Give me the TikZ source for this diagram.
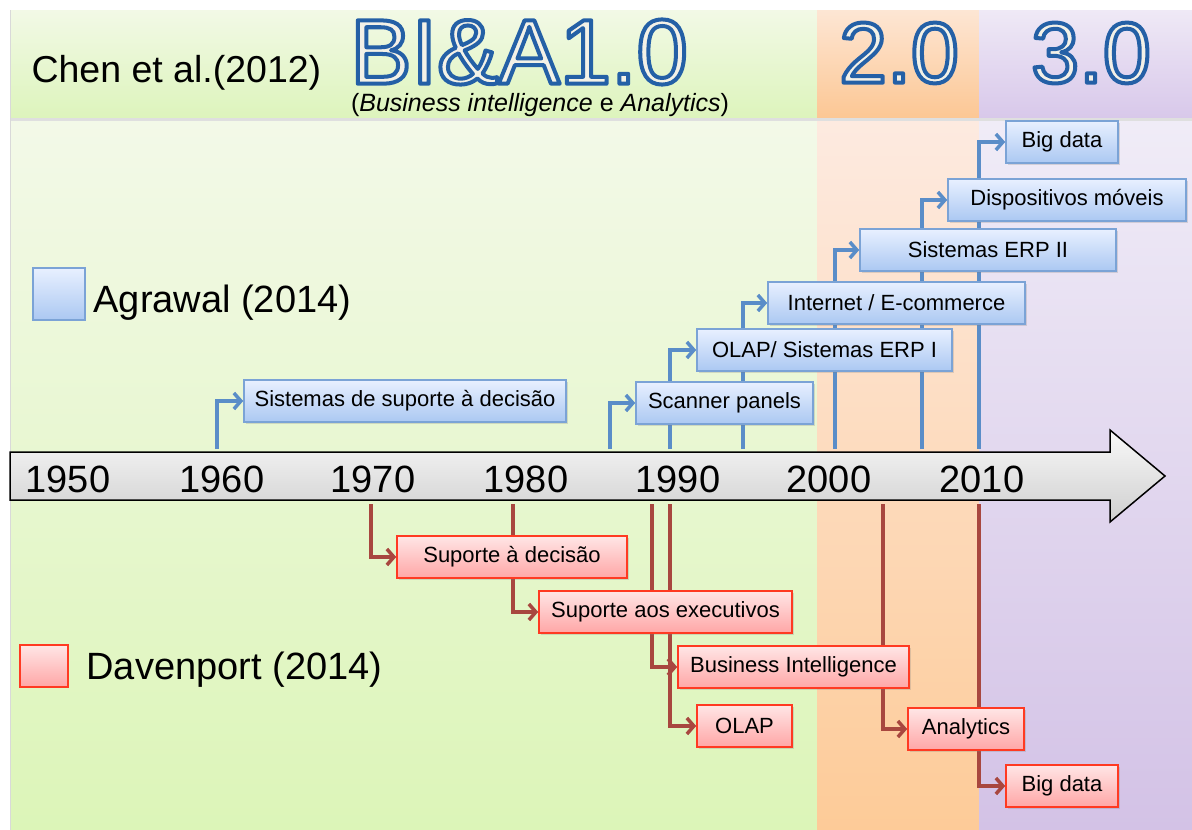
\documentclass[tikz,border=0pt]{standalone}
\usepackage{fontspec}
\setmainfont{Liberation Sans}
\usetikzlibrary{arrows.meta,shadows}
\pgfdeclarelayer{back}
\pgfdeclarelayer{mid}
\pgfsetlayers{back,mid,main}
\definecolor{hgreenA}{HTML}{F2F9E6}
\definecolor{hgreenB}{HTML}{DDF4BC}
\definecolor{bgreenA}{HTML}{F3F9E8}
\definecolor{bgreenB}{HTML}{DCF5B8}
\definecolor{horangeA}{HTML}{FDE6D4}
\definecolor{horangeB}{HTML}{FCC794}
\definecolor{borangeA}{HTML}{FDEAE0}
\definecolor{borangeB}{HTML}{FDCB98}
\definecolor{hpurpleA}{HTML}{EFE9F6}
\definecolor{hpurpleB}{HTML}{D8C8EA}
\definecolor{bpurpleA}{HTML}{F0ECF7}
\definecolor{bpurpleB}{HTML}{D3C2E6}
\definecolor{bluetop}{HTML}{E8F0FF}
\definecolor{bluebot}{HTML}{ABC8F2}
\definecolor{blueedge}{HTML}{7BA3D6}
\definecolor{bluearrow}{HTML}{5A8DC8}
\definecolor{redtop}{HTML}{FFE6E6}
\definecolor{redbot}{HTML}{FFA6A6}
\definecolor{rededge}{HTML}{FF3A22}
\definecolor{redarrow}{HTML}{A8473F}
% outlined title letters: cream fill, blue stroke
\newcommand\outlined[1]{\special{pdf:code q 2 Tr 4 w 1 j 0.141 0.376 0.651 RG 0.953 0.945 0.906 rg}#1\special{pdf:code Q}}
\begin{document}
\begin{tikzpicture}[x=1pt,y=-1pt,
    box/.style={rectangle,line width=1.6pt,minimum height=42pt,inner sep=0pt,
      font=\fontsize{22}{25}\selectfont,
      drop shadow={shadow xshift=1.5pt,shadow yshift=-2pt,opacity=.25}},
    agbox/.style={box,draw=blueedge,top color=bluetop,bottom color=bluebot},
    dabox/.style={box,draw=rededge,top color=redtop,bottom color=redbot},
    agline/.style={bluearrow,line width=3.5pt,-{Straight Barb[length=7pt,width=16pt]}},
    daline/.style={redarrow,line width=3.5pt,-{Straight Barb[length=7pt,width=16pt]}},
    year/.style={anchor=base,font=\fontsize{38}{40}\selectfont},
    big/.style={inner sep=0pt,font=\fontsize{92}{92}\selectfont},
    bigver/.style={inner sep=0pt,font=\fontsize{86}{86}\selectfont}]
\useasboundingbox (0,0) rectangle (1192,830);
\begin{pgfonlayer}{back}
\fill[white] (0,0) rectangle (1192,830);
% header and body bands
\fill[top color=hgreenA,bottom color=hgreenB] (10,10) rectangle (817,118);
\fill[top color=horangeA,bottom color=horangeB] (817,10) rectangle (979,118);
\fill[top color=hpurpleA,bottom color=hpurpleB] (979,10) rectangle (1192,118);
\fill[gray!25] (10,118) rectangle (1192,121);
\fill[top color=bgreenA,bottom color=bgreenB] (10,121) rectangle (817,830);
\fill[top color=borangeA,bottom color=borangeB] (817,121) rectangle (979,830);
\fill[top color=bpurpleA,bottom color=bpurpleB] (979,121) rectangle (1192,830);
\draw[gray!30,line width=1pt] (10,10) -- (10,830);
% timeline
\draw[line width=1.5pt,top color=gray!5,bottom color=gray!38]
  (10,452) -- (1110,452) -- (1110,430) -- (1165,476) -- (1110,522) -- (1110,500) -- (10,500) -- cycle;
\end{pgfonlayer}
% titles
\node[anchor=base west,font=\fontsize{37.5}{40}\selectfont] (chen) at (28,82) {Chen et al.(2012)};
\node[big] (bia) at (519,52) {\outlined{BI\&A1.0}};
\node[bigver] (ver2) at (899,53) {\outlined{2.0}};
\node[bigver] (ver3) at (1091,53) {\outlined{3.0}};
\node[anchor=base,inner sep=0pt,font=\fontsize{25}{27}\selectfont] (sub) at (540,111)
  {(\textit{Business intelligence} e \textit{Analytics})};
% legend
\draw[blueedge,line width=1.6pt,top color=bluetop,bottom color=bluebot] (33,268) rectangle (85,320);
\node[anchor=base west,font=\fontsize{38}{40}\selectfont] (agrawal) at (90,312) {Agrawal (2014)};
\draw[rededge,line width=1.6pt,top color=redtop,bottom color=redbot] (20,645) rectangle (68,687);
\node[anchor=base west,font=\fontsize{38}{40}\selectfont] (davenport) at (83,679) {Davenport (2014)};
\foreach \yr/\px in {1950/68,1960/222,1970/373,1980/526,1990/678,2000/829,2010/982}
  \node[year] (y\yr) at (\px,492) {\yr};
% start points on the timeline
\foreach \n/\px in {1/217,2/610,3/670,4/743,5/835,6/922,7/979}
  \coordinate (a\n) at (\px,449);
\foreach \n/\px in {1/371,2/513,3/652,4/670,5/883,6/979}
  \coordinate (d\n) at (\px,504);
% Agrawal
\node[agbox,minimum width=322pt] (sdss) at (405,401) {Sistemas de suporte à decisão};
\node[agbox,minimum width=177pt] (scan) at (724.5,403) {Scanner panels};
\node[agbox,minimum width=255pt] (olaperp) at (824.5,350) {OLAP/ Sistemas ERP I};
\node[agbox,minimum width=257pt] (inet) at (896.5,303) {Internet / E-commerce};
\node[agbox,minimum width=256pt] (erp2) at (988,250) {Sistemas ERP II};
\node[agbox,minimum width=238pt] (mob) at (1067,200) {Dispositivos móveis};
\node[agbox,minimum width=112pt] (bigag) at (1062,142) {Big data};
% Davenport
\node[dabox,minimum width=230pt] (supdec) at (512,557) {Suporte à decisão};
\node[dabox,minimum width=253pt] (supexe) at (665.5,612) {Suporte aos executivos};
\node[dabox,minimum width=231pt] (bi) at (793.5,667) {Business Intelligence};
\node[dabox,minimum width=95pt] (olap) at (744.5,726) {OLAP};
\node[dabox,minimum width=116pt] (anl) at (966,729) {Analytics};
\node[dabox,minimum width=112pt] (bigda) at (1062,786) {Big data};
% connectors behind the boxes
\begin{pgfonlayer}{mid}
\draw[agline] (a1) |- (sdss.west);
\draw[agline] (a2) |- (scan.west);
\draw[agline] (a3) |- (olaperp.west);
\draw[agline] (a4) |- (inet.west);
\draw[agline] (a5) |- (erp2.west);
\draw[agline] (a6) |- (mob.west);
\draw[agline] (a7) |- (bigag.west);
\draw[daline] (d1) |- (supdec.west);
\draw[daline] (d2) |- (supexe.west);
\draw[daline] (d3) |- (bi.west);
\draw[daline] (d4) |- (olap.west);
\draw[daline] (d5) |- (anl.west);
\draw[daline] (d6) |- (bigda.west);
\end{pgfonlayer}
\end{tikzpicture}
\end{document}
